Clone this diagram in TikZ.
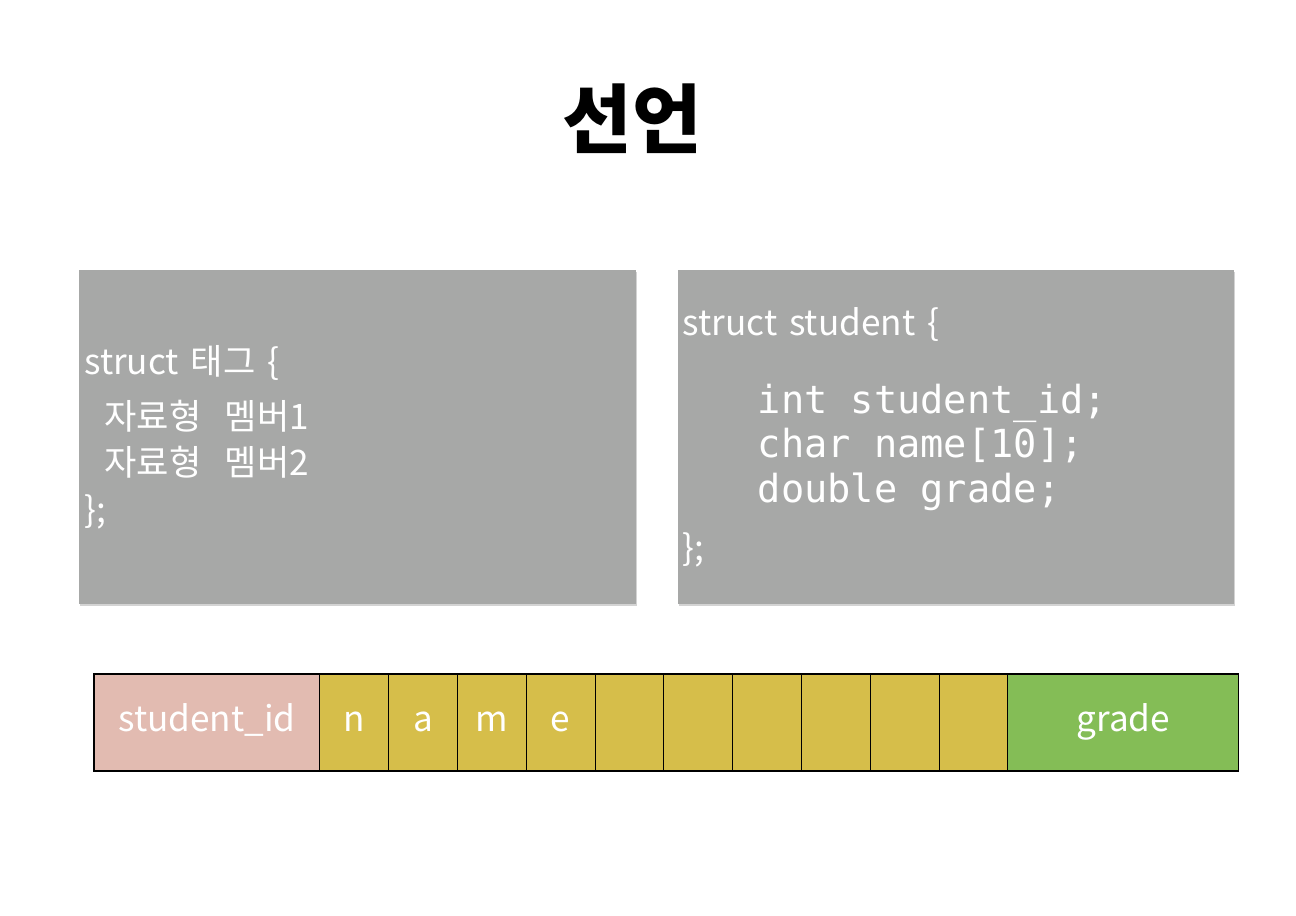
\documentclass[tikz,border=0pt]{standalone}
\usepackage{fontspec}
\usepackage{tikz}
\usetikzlibrary{positioning,shadows}
\newfontfamily\krfont{Noto Sans CJK KR}
\newfontfamily\codefont{DejaVu Sans Mono}
\newcommand{\codetxt}{\codefont\fontsize{22}{26}\selectfont\spaceskip=0.602em\relax}
\definecolor{boxgray}{RGB}{167,168,167}
\definecolor{idpink}{RGB}{226,187,177}
\definecolor{nameyellow}{RGB}{214,190,74}
\definecolor{gradegreen}{RGB}{132,189,86}

\begin{document}
\begin{tikzpicture}[
    x=0.02cm,
    y=-0.02cm,
    font=\krfont,
    title/.style={
		font=\krfont\bfseries\fontsize{43}{50}\selectfont,
		text=black,
		inner sep=0pt
	},
	codebox/.style={
		rectangle,
		fill=boxgray,
		draw=none,
		text=white,
		align=left,
		inner xsep=0.09cm,
		inner ysep=0pt,
		text width=10.94cm,
		minimum width=11.14cm,
		minimum height=6.68cm,
		font=\krfont\fontsize{20}{26.6}\selectfont,
		drop shadow={opacity=0.35, shadow xshift=0.5pt, shadow yshift=-1pt}
	},
	cell/.style={
		rectangle,
		draw=black,
		line width=0.6pt,
		outer sep=0pt,
		fill=nameyellow,
		text=white,
		inner sep=0pt,
		text height=1.1em,
		text depth=0.1em,
		minimum height=1.94cm,
		minimum width=1.376cm,
		font=\krfont\fontsize{20}{24}\selectfont
	},
	idcell/.style={
		cell,
		fill=idpink,
		minimum width=4.52cm
	},
	gradecell/.style={
		cell,
		fill=gradegreen,
		minimum width=4.62cm
	}
  ]

\useasboundingbox (0,0) rectangle (1296,916);

% // Title
\node [title] (title) at (632,119) {선언};

% // The declaration boxes
\node [codebox, anchor=north west] (general) at (79,270)
 {%
 struct 태그 \{\\[0.16cm]
 \hspace*{0.4cm}자료형~~멤버1\\
 \hspace*{0.4cm}자료형~~멤버2\\
 \};
 };

\node [codebox, anchor=north west, minimum width=11.12cm] (student) at (678,270)
 {%
 struct student \{\\[0.62cm]
 \hspace*{1.5cm}{\codetxt int student\_id;}\\[-0.04cm]
 \hspace*{1.5cm}{\codetxt char name[10];}\\[-0.04cm]
 \hspace*{1.5cm}{\codetxt double grade;}\\[0.22cm]
 \};
 };

% // The memory layout
\node [idcell, anchor=north west] (sid) at (94,674) {student\_id};
\node [cell, right=0pt of sid] (c1) {n};
\node [cell, right=0pt of c1] (c2) {a};
\node [cell, right=0pt of c2] (c3) {m};
\node [cell, right=0pt of c3] (c4) {e};
\node [cell, right=0pt of c4] (c5) {};
\node [cell, right=0pt of c5] (c6) {};
\node [cell, right=0pt of c6] (c7) {};
\node [cell, right=0pt of c7] (c8) {};
\node [cell, right=0pt of c8] (c9) {};
\node [cell, right=0pt of c9] (c10) {};
\node [gradecell, right=0pt of c10] (grade) {grade};

\end{tikzpicture}
\end{document}
